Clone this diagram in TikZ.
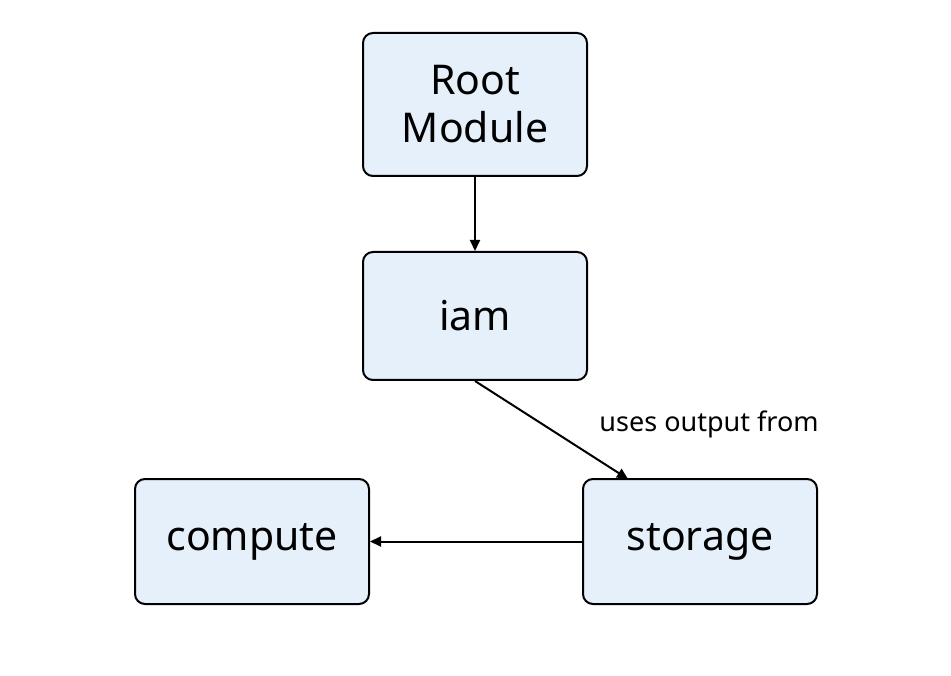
\documentclass[tikz,border=0pt]{standalone}
\usepackage{fontspec}
\setmainfont{Noto Sans}
\usetikzlibrary{arrows.meta}
\definecolor{boxfill}{HTML}{E6F0FB}
\begin{document}
\begin{tikzpicture}[x=1pt,y=-1pt,
  modbox/.style={draw=black, line width=2pt, fill=boxfill, rounded corners=10pt, minimum width=224pt, align=center, font=\fontsize{41}{48}\selectfont, inner sep=0pt},
  conn/.style={line width=2pt, -{Triangle[length=11pt,width=10pt]}}]
\useasboundingbox (0,0) rectangle (951,676);
\node[modbox, minimum height=143pt] (root) at (475,104.5) {Root\\Module};
\node[modbox, minimum height=128pt] (iam) at (475,316) {iam};
\node[modbox, minimum width=234pt, minimum height=125pt] (storage) at (700,541.5) {storage};
\node[modbox, minimum width=234pt, minimum height=125pt] (compute) at (252,541.5) {compute};
\coordinate (stin) at (628,479);
\draw[conn] (root.south) -- (iam.north);
\draw[conn] (iam.south) -- (stin);
\node[font=\fontsize{27}{32}\selectfont, inner sep=0pt] (lbl) at (709,424) {uses output from};
\draw[conn] (storage.west) -- (compute.east);
\end{tikzpicture}
\end{document}
